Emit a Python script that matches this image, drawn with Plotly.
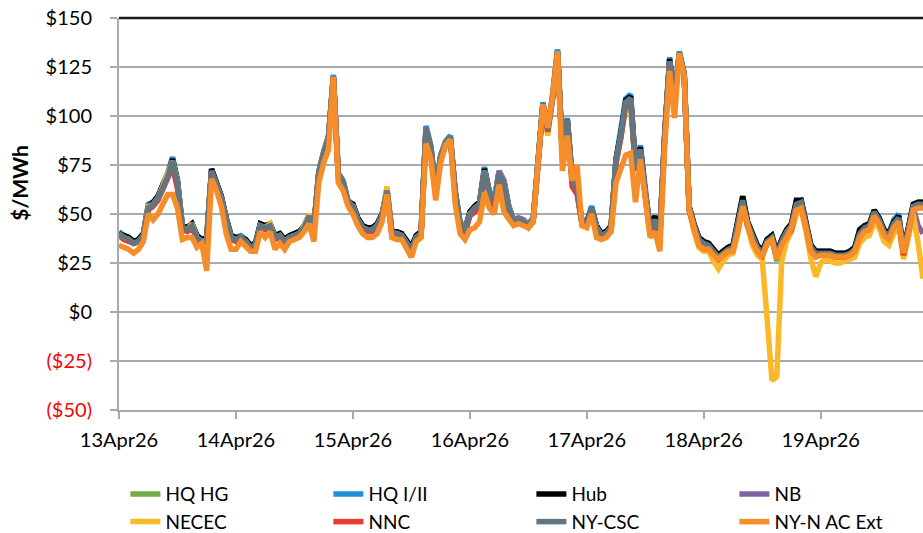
import pandas as pd
import plotly.graph_objects as go

# hourly prices, $/MWh, 13Apr26 00:00 onwards (one row per day)
hq_hg = [
    39, 38, 37, 35, 36, 39, 53, 55, 58, 64, 69, 76, 66, 43, 42, 44, 38, 36, 37, 72, 65, 58, 47, 38,
    37, 38, 36, 33, 34, 44, 43, 44, 38, 39, 36, 38, 39, 40, 43, 49, 43, 71, 81, 89, 120, 70, 66, 56,
    54, 47, 43, 42, 42, 44, 49, 62, 40, 40, 39, 35, 32, 38, 40, 93, 84, 61, 79, 86, 89, 61, 45, 41,
    50, 53, 55, 72, 61, 56, 71, 66, 53, 46, 47, 46, 44, 47, 80, 106, 93, 110, 133, 80, 98, 68, 62, 46,
    45, 53, 43, 39, 40, 43, 77, 90, 107, 109, 73, 83, 60, 41, 47, 39, 90, 128, 108, 132, 121, 53, 44, 37,
    34, 33, 30, 27, 29, 31, 32, 43, 56, 44, 37, 32, 29, 35, 37, 26, 35, 40, 43, 54, 55, 44, 32, 29,
    29, 29, 29, 28, 28, 28, 29, 31, 39, 42, 43, 50, 46, 40, 38, 44, 47, 30, 41, 53, 54, 54,
]
hq_i_ii = [
    41, 39, 38, 36, 37, 40, 55, 56, 59, 65, 71, 79, 67, 44, 43, 45, 39, 37, 38, 73, 66, 59, 48, 39,
    38, 39, 37, 34, 35, 45, 44, 45, 39, 40, 37, 39, 40, 41, 44, 50, 44, 72, 82, 90, 121, 71, 67, 57,
    55, 48, 44, 43, 43, 45, 50, 63, 41, 41, 40, 36, 33, 39, 41, 95, 85, 62, 80, 87, 90, 62, 46, 43,
    51, 54, 56, 74, 62, 57, 72, 67, 54, 47, 48, 47, 45, 48, 81, 107, 94, 111, 134, 81, 99, 69, 63, 47,
    46, 54, 44, 40, 41, 44, 78, 92, 109, 111, 75, 85, 61, 42, 48, 40, 92, 130, 109, 133, 122, 54, 45, 38,
    36, 35, 32, 29, 31, 33, 34, 45, 59, 46, 39, 34, 31, 37, 39, 30, 37, 42, 45, 56, 57, 46, 34, 31,
    31, 31, 31, 30, 30, 30, 31, 33, 41, 44, 45, 52, 48, 42, 40, 47, 50, 32, 43, 55, 56, 56,
]
hub = [
    40, 39, 38, 36, 37, 40, 54, 56, 59, 65, 70, 78, 67, 44, 43, 45, 39, 37, 38, 73, 66, 59, 48, 39,
    38, 38, 37, 34, 35, 45, 44, 45, 39, 40, 37, 39, 40, 41, 44, 49, 44, 71, 81, 89, 120, 70, 66, 56,
    55, 48, 44, 43, 43, 45, 50, 62, 41, 41, 40, 36, 33, 39, 41, 93, 84, 61, 79, 86, 89, 61, 45, 41,
    51, 54, 56, 73, 61, 56, 71, 66, 53, 46, 47, 46, 44, 47, 80, 106, 93, 110, 133, 80, 98, 68, 62, 46,
    46, 53, 44, 40, 41, 44, 78, 91, 108, 110, 74, 84, 61, 43, 49, 40, 91, 129, 108, 132, 121, 54, 45, 38,
    36, 35, 32, 29, 31, 33, 34, 45, 59, 46, 39, 34, 31, 37, 39, 30, 37, 42, 45, 57, 57, 46, 34, 31,
    31, 31, 31, 30, 30, 30, 31, 33, 42, 44, 45, 52, 48, 42, 40, 46, 49, 32, 43, 55, 56, 56,
]
nb = [
    39, 38, 37, 35, 36, 39, 53, 55, 58, 64, 69, 77, 66, 43, 42, 44, 38, 36, 37, 72, 65, 58, 47, 38,
    37, 37, 35, 32, 32, 44, 43, 44, 38, 39, 36, 38, 39, 40, 43, 49, 43, 71, 81, 89, 120, 70, 66, 56,
    54, 47, 43, 42, 42, 44, 49, 62, 40, 40, 39, 35, 32, 38, 40, 94, 84, 61, 79, 86, 89, 61, 45, 41,
    50, 53, 55, 72, 61, 56, 72, 67, 54, 47, 48, 47, 44, 47, 80, 106, 93, 110, 133, 80, 98, 68, 62, 46,
    45, 53, 43, 39, 40, 43, 77, 90, 107, 109, 73, 83, 60, 41, 47, 39, 90, 128, 108, 132, 121, 53, 44, 37,
    34, 33, 30, 27, 29, 31, 32, 43, 56, 44, 37, 32, 29, 35, 37, 28, 35, 40, 43, 54, 55, 44, 32, 29,
    29, 29, 29, 28, 28, 28, 29, 31, 39, 42, 43, 50, 46, 40, 38, 44, 47, 30, 41, 53, 44, 40,
]
necec = [
    40, 38, 37, 35, 36, 39, 54, 55, 58, 64, 70, 77, 66, 43, 42, 45, 38, 36, 37, 71, 65, 58, 47, 38,
    37, 38, 36, 33, 34, 44, 43, 45, 38, 39, 36, 38, 39, 40, 44, 50, 43, 71, 81, 89, 120, 70, 66, 56,
    54, 47, 43, 42, 42, 44, 49, 64, 40, 40, 39, 34, 28, 38, 40, 92, 84, 61, 79, 86, 89, 61, 45, 41,
    50, 53, 55, 72, 61, 56, 71, 66, 53, 46, 47, 46, 44, 47, 80, 104, 90, 110, 133, 80, 97, 67, 62, 46,
    45, 52, 43, 39, 40, 43, 76, 89, 104, 105, 73, 80, 59, 41, 46, 39, 89, 127, 107, 132, 120, 52, 41, 33,
    31, 31, 26, 22, 26, 29, 30, 40, 53, 42, 34, 29, 27, -3, -35, -33, 26, 36, 41, 50, 52, 41, 27, 18,
    25, 27, 26, 25, 25, 26, 27, 28, 35, 38, 39, 46, 43, 36, 34, 40, 44, 27, 38, 50, 35, 17,
]
nnc = [
    39, 37, 36, 35, 36, 38, 52, 54, 57, 63, 68, 74, 63, 42, 41, 43, 37, 35, 36, 71, 64, 57, 46, 37,
    36, 37, 35, 32, 33, 43, 42, 43, 37, 38, 35, 37, 38, 39, 42, 48, 42, 70, 80, 88, 120, 69, 65, 55,
    53, 46, 42, 41, 41, 43, 48, 61, 39, 39, 38, 34, 31, 37, 39, 92, 83, 60, 78, 85, 88, 60, 44, 40,
    49, 51, 54, 70, 60, 53, 70, 65, 52, 45, 46, 45, 43, 46, 80, 105, 92, 109, 132, 79, 97, 64, 60, 45,
    44, 52, 42, 38, 39, 42, 76, 89, 106, 108, 72, 82, 59, 40, 46, 38, 89, 127, 107, 131, 120, 52, 43, 36,
    34, 33, 30, 27, 29, 31, 32, 43, 56, 44, 37, 32, 29, 35, 37, 28, 35, 39, 42, 53, 54, 43, 32, 29,
    29, 29, 29, 28, 28, 28, 29, 31, 39, 42, 43, 50, 46, 40, 38, 44, 47, 29, 41, 53, 54, 54,
]
ny_csc = [
    40, 38, 37, 35, 36, 39, 53, 55, 58, 64, 69, 77, 66, 43, 42, 44, 38, 36, 37, 72, 65, 58, 47, 38,
    37, 38, 36, 33, 34, 44, 43, 44, 38, 39, 36, 38, 39, 40, 43, 49, 43, 71, 81, 89, 120, 70, 66, 56,
    54, 47, 43, 42, 42, 44, 49, 62, 40, 40, 39, 35, 32, 38, 40, 93, 84, 61, 79, 86, 89, 61, 45, 41,
    50, 53, 55, 72, 61, 56, 71, 66, 53, 46, 47, 46, 44, 47, 80, 106, 93, 110, 133, 80, 98, 68, 62, 46,
    45, 53, 43, 39, 40, 43, 77, 90, 107, 109, 73, 83, 60, 41, 47, 39, 90, 128, 108, 132, 121, 53, 44, 37,
    35, 34, 31, 28, 30, 32, 33, 44, 57, 45, 38, 33, 30, 36, 38, 29, 36, 41, 44, 55, 56, 45, 33, 30,
    30, 30, 30, 29, 29, 29, 30, 32, 40, 43, 44, 51, 47, 41, 39, 45, 48, 31, 42, 54, 55, 55,
]
ny_n_ac_ext = [
    34, 33, 32, 30, 32, 36, 50, 47, 50, 55, 60, 60, 53, 37, 38, 38, 33, 35, 21, 68, 62, 54, 40, 32,
    32, 36, 33, 31, 31, 41, 38, 41, 32, 35, 32, 36, 37, 38, 41, 45, 36, 66, 76, 83, 120, 66, 62, 54,
    50, 44, 40, 38, 38, 40, 46, 60, 38, 37, 37, 32, 28, 36, 38, 86, 78, 57, 76, 85, 88, 55, 40, 37,
    42, 43, 46, 61, 53, 50, 65, 51, 48, 44, 45, 44, 43, 46, 80, 106, 94, 110, 133, 72, 90, 67, 75, 44,
    43, 50, 38, 37, 38, 41, 66, 73, 80, 81, 56, 78, 56, 38, 41, 31, 85, 123, 99, 132, 120, 53, 43, 34,
    32, 32, 29, 27, 29, 31, 31, 41, 54, 44, 36, 31, 28, 35, 37, 27, 34, 38, 43, 52, 53, 43, 31, 28,
    29, 29, 29, 28, 28, 28, 29, 31, 38, 41, 42, 49, 45, 39, 37, 43, 46, 30, 40, 52, 53, 53,
]

series_names = ["HQ HG", "HQ I/II", "Hub", "NB", "NECEC", "NNC", "NY-CSC", "NY-N AC Ext"]
series_values = [hq_hg, hq_i_ii, hub, nb, necec, nnc, ny_csc, ny_n_ac_ext]
series_colors = ["#70AD47", "#1F90D8", "#000000", "#8064A2",
                 "#FBB829", "#E8392E", "#637580", "#F58D2A"]

y_ticks = [-50, -25, 0, 25, 50, 75, 100, 125, 150]
y_labels = ["($50)", "($25)", "$0", "$25", "$50", "$75", "$100", "$125", "$150"]

start = pd.Timestamp("2026-04-13 00:00")
hours = pd.date_range(start, periods=len(ny_csc), freq="h")

FONT = "Lato, 'Liberation Sans', Arial, sans-serif"
GRID = "#A7ABAE"

fig = go.Figure()
for name, vals, col in zip(series_names, series_values, series_colors):
    fig.add_trace(go.Scatter(
        x=hours, y=vals, name=name, mode="lines",
        line=dict(color=col, width=5.5),
    ))

# red brackets for negative labels
tick_text = [f"<span style='color:#FF0000'>{t}</span>" if v < 0 else t
             for v, t in zip(y_ticks, y_labels)]

fig.update_layout(
    width=923, height=533,
    margin=dict(l=119, r=0, t=18, b=123, autoexpand=False),
    plot_bgcolor="white", paper_bgcolor="white",
    font=dict(family=FONT, size=20, color="#000000"),
    showlegend=True,
    legend=dict(
        orientation="h", x=-0.002, xanchor="left", y=-0.166, yanchor="top",
        entrywidth=150, entrywidthmode="pixels",
        font=dict(size=19), traceorder="normal",
        bgcolor="rgba(0,0,0,0)", indentation=8,
    ),
    xaxis=dict(
        type="date",
        range=[start, start + pd.Timedelta(hours=165)],
        dtick=86400000, tick0=start, tickformat="%d%b%y",
        showgrid=False, zeroline=False,
        showline=True, linecolor=GRID, linewidth=2,
        ticks="outside", ticklen=7, tickwidth=2, tickcolor=GRID,
        tickfont=dict(size=20), ticklabelstandoff=4,
        ticklabeloverflow="allow", automargin=False,
    ),
    yaxis=dict(
        range=[-50, 150], tickvals=y_ticks, ticktext=tick_text,
        showgrid=True, gridcolor=GRID, gridwidth=2, zeroline=False,
        showline=True, linecolor=GRID, linewidth=2,
        ticks="outside", ticklen=7, tickwidth=2, tickcolor=GRID,
        tickfont=dict(size=20), ticklabelstandoff=14,
        ticklabeloverflow="allow", automargin=False,
    ),
)

# dark top border of the plot area
fig.add_shape(type="line", xref="paper", yref="paper", x0=0, x1=1, y0=1, y1=1,
              line=dict(color="#1A1A1A", width=2.5), layer="above")

fig.add_annotation(
    text="<b>$/MWh</b>", textangle=-90, showarrow=False,
    xref="paper", yref="paper", x=-0.123, y=0.58,
    xanchor="center", yanchor="middle",
    font=dict(size=21, family=FONT),
)

# drop the default 8px page margin so the figure fills the window exactly
fig.write_html("out.html", config={"displayModeBar": False},
               post_script="document.body.style.margin='0';")
